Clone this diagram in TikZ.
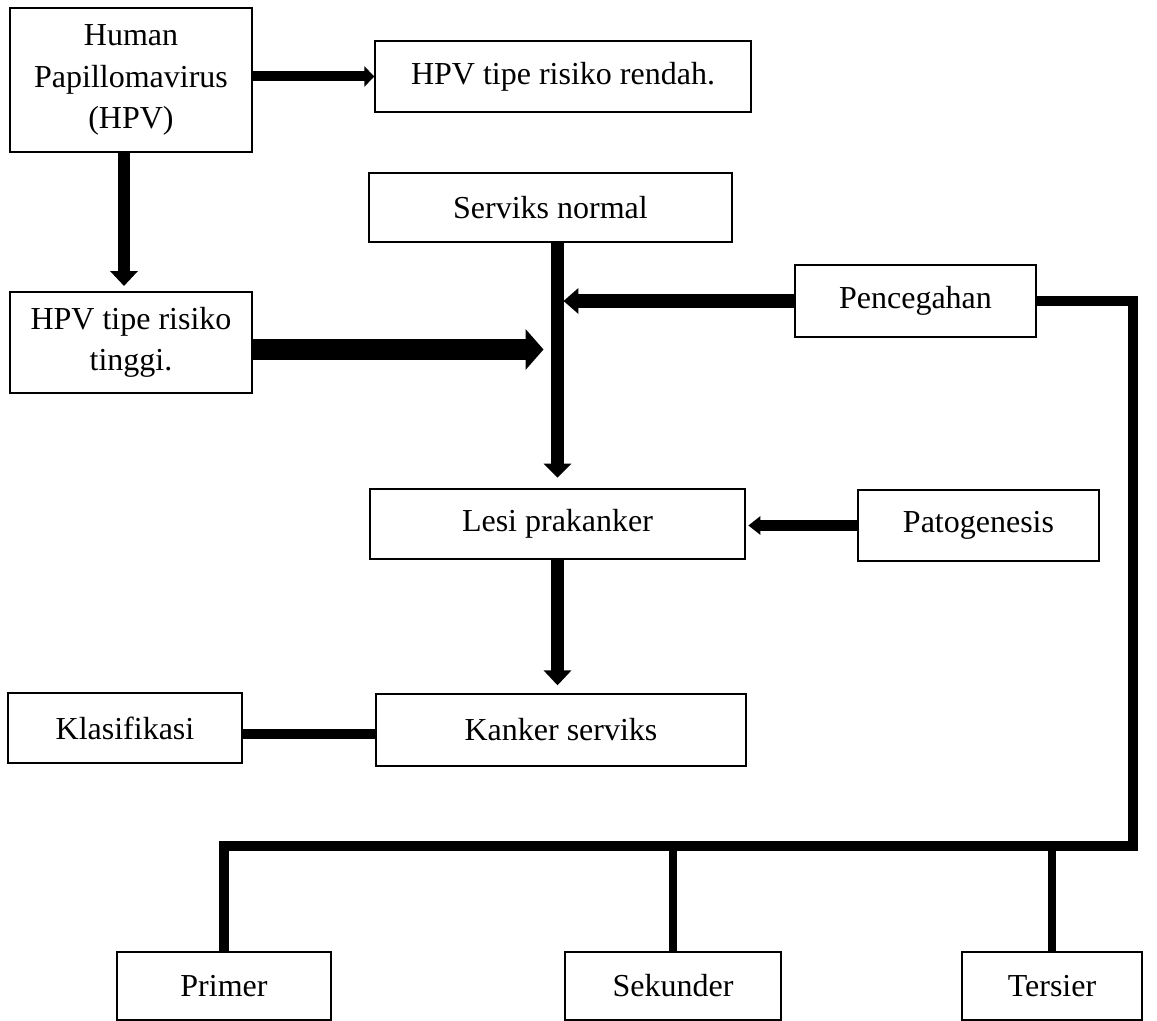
\documentclass[tikz,border=0pt]{standalone}
\usepackage{fontspec}
\setmainfont{Liberation Serif}
\usetikzlibrary{arrows.meta,calc}

\begin{document}
\begin{tikzpicture}[x=0.375pt, y=-0.375pt,
    box/.style 2 args={draw, line width=0.5pt, align=center, inner sep=0pt,
        minimum width=#1*0.375pt, minimum height=#2*0.375pt,
        font=\fontsize{12}{15.5}\selectfont},
    headsize/.style 2 args={-{Triangle[length=#1, width=#2]}},
    link/.style={line width=#1}]
    \path [use as bounding box] (0,0) rectangle (1157,1021);
    % boxes
    \node [box={242}{144}] (hpv)      at (131,80)      {Human\\Papillomavirus\\(HPV)};
    \node [box={376}{71}]  (rendah)   at (563,76.5)    {HPV tipe risiko rendah.};
    \node [box={363}{69}]  (normal)   at (550.5,207.5) {Serviks normal};
    \node [box={241}{72}]  (cegah)    at (915.5,301)   {Pencegahan};
    \node [box={242}{101}] (tinggi)   at (131,342.5)   {HPV tipe risiko\\tinggi.};
    \node [box={375}{70}]  (lesi)     at (557.5,524)   {Lesi prakanker};
    \node [box={241}{71}]  (pato)     at (978.5,525.5) {Patogenesis};
    \node [box={370}{72}]  (kanker)   at (561,730)     {Kanker serviks};
    \node [box={234}{70}]  (klas)     at (125,728)     {Klasifikasi};
    \node [box={214}{68}]  (primer)   at (224,986)     {Primer};
    \node [box={216}{68}]  (sekunder) at (673,986)     {Sekunder};
    \node [box={180}{68}]  (tersier)  at (1052,986)    {Tersier};
    \coordinate (corner) at (1133,846);
    % arrows
    \draw [link=3.75pt, headsize={3.75pt}{7.5pt}] (hpv.east |- rendah.west) -- (rendah.west);
    \draw [link=4.5pt, headsize={5.6pt}{10.1pt}, shorten >=2pt] ($(hpv.south)+(-7,0)$) -- ($(tinggi.north)+(-7,0)$);
    \draw [link=8pt, headsize={6.75pt}{15pt}] ($(tinggi.east)+(0,7)$) -- ($(lesi.north |- tinggi.east)+(-14,7)$);
    \draw [link=4.7pt, headsize={5.25pt}{10.1pt}, shorten >=4pt] (normal.south -| lesi.north) -- (lesi.north);
    \draw [link=5pt, headsize={5.6pt}{9.4pt}] (cegah.west) -- ($(cegah.west -| lesi.north)+(6,0)$);
    \draw [link=4.1pt, headsize={4.5pt}{6.75pt}, shorten >=1pt] (pato.west) -- (pato.west -| lesi.east);
    \draw [link=4.7pt, headsize={5.6pt}{10.1pt}, shorten >=3pt] (lesi.south) -- (lesi.south |- kanker.north);
    % lines
    \draw [link=3.4pt] ($(klas.east)+(0,6)$) -- ($(klas.east -| kanker.west)+(0,6)$);
    \draw [link=3.5pt] (cegah.east) -| (corner) -| (primer.north);
    \foreach \n in {sekunder, tersier}
        \draw [link=3pt] (\n.north |- corner) -- (\n.north);
\end{tikzpicture}
\end{document}
